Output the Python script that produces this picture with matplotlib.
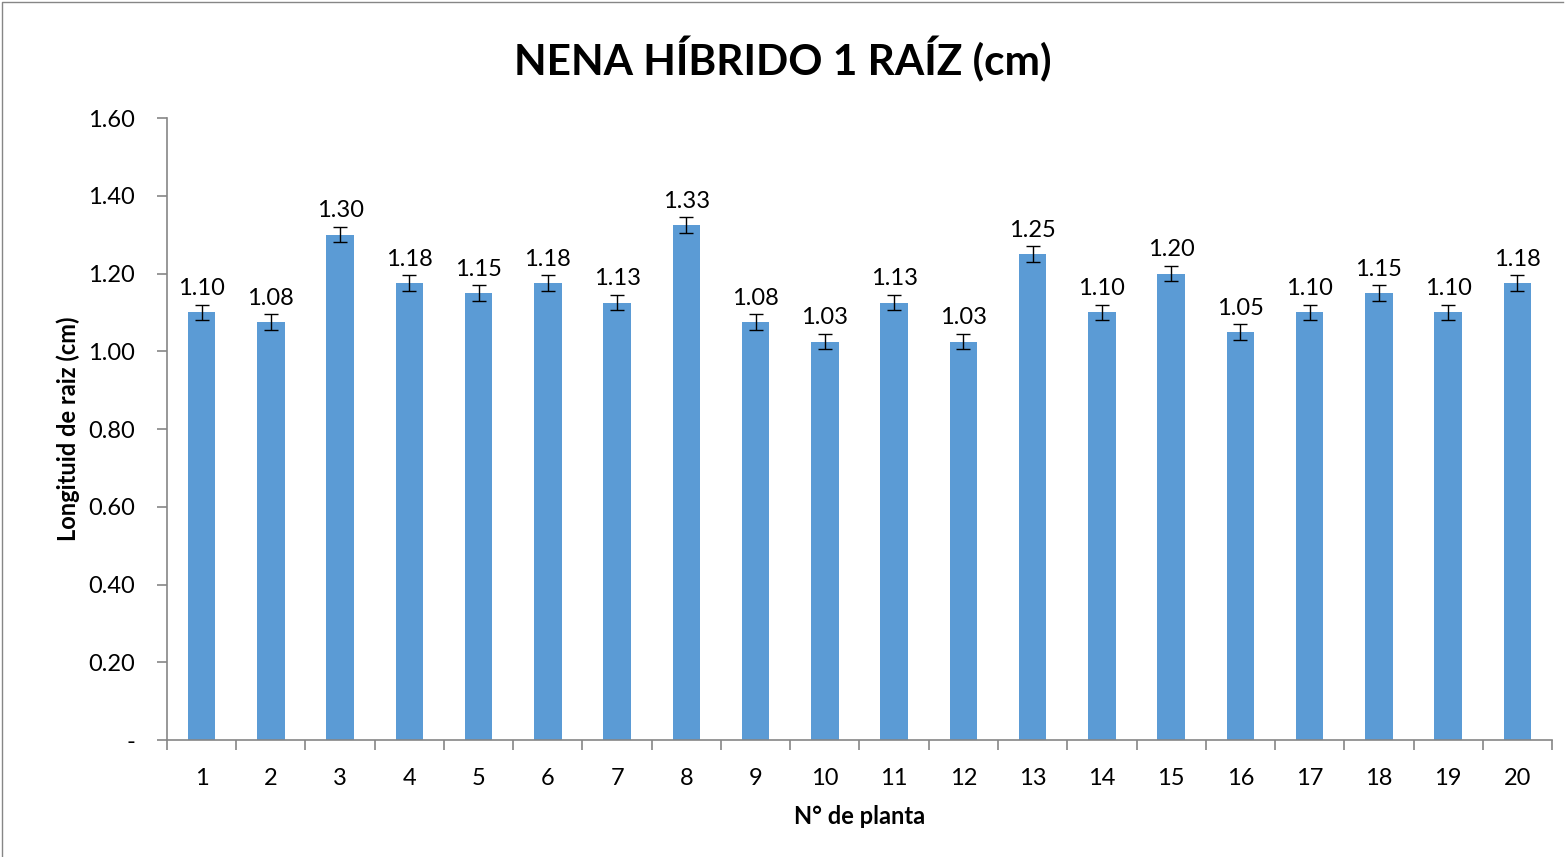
import matplotlib.pyplot as plt
from matplotlib.lines import Line2D
import numpy as np

plt.rcParams['font.family'] = ['Lato', 'DejaVu Sans']

# plant number and mean root length (cm)
plantas = list(range(1, 21))
longitud = [1.10, 1.075, 1.30, 1.175, 1.15, 1.175, 1.125, 1.325, 1.075, 1.025,
            1.125, 1.025, 1.25, 1.10, 1.20, 1.05, 1.10, 1.15, 1.10, 1.175]
error = [0.02] * 20
etiquetas = ['1.10', '1.08', '1.30', '1.18', '1.15', '1.18', '1.13', '1.33', '1.08', '1.03',
             '1.13', '1.03', '1.25', '1.10', '1.20', '1.05', '1.10', '1.15', '1.10', '1.18']
yticks = [0, 0.2, 0.4, 0.6, 0.8, 1.0, 1.2, 1.4, 1.6]
ylabels = ['-', '0.20', '0.40', '0.60', '0.80', '1.00', '1.20', '1.40', '1.60']

fig = plt.figure(figsize=(15.65, 8.57), dpi=100)
ax = fig.add_axes([0.1067, 0.1365, 0.885, 0.7258])

ax.bar(plantas, longitud, width=0.4, color='#5b9bd5', zorder=2)
ax.errorbar(plantas, longitud, yerr=error, fmt='none', ecolor='black',
            elinewidth=1, capsize=5, capthick=1, zorder=3)
for x, y, e, t in zip(plantas, longitud, error, etiquetas):
    ax.text(x, y + e + 0.014, t, ha='center', va='bottom', fontsize=17)

ax.set_xlim(0.5, 20.5)
ax.set_ylim(0, 1.6)
ax.set_yticks(yticks)
ax.set_yticklabels(ylabels, fontsize=17)
ax.set_xticks(plantas)
ax.set_xticklabels([str(p) for p in plantas], fontsize=17)
ax.set_xticks(np.arange(0.5, 21, 1), minor=True)
ax.tick_params(axis='x', which='major', length=0, pad=20)
ax.tick_params(axis='x', which='minor', length=7, color='#868686', width=1.2)
ax.tick_params(axis='y', length=7, color='#868686', width=1.2, pad=16)

for s in ['top', 'right']:
    ax.spines[s].set_visible(False)
for s in ['left', 'bottom']:
    ax.spines[s].set_color('#868686')
    ax.spines[s].set_linewidth(1.2)

ax.set_xlabel('N° de planta', fontsize=17, fontweight='bold', labelpad=12)
ax.set_ylabel('Longituid de raiz (cm)', fontsize=17, fontweight='bold', labelpad=6)
fig.suptitle('NENA HÍBRIDO 1 RAÍZ (cm)', fontsize=30.5, fontweight='bold', y=0.958)

# chart-area border (only top and left visible in the original crop)
fig.lines.append(Line2D([0.001, 0.001, 0.999], [0.0, 0.998, 0.998], transform=fig.transFigure,
                        color='#868686', linewidth=1))

fig.savefig('out.png', dpi=100)
